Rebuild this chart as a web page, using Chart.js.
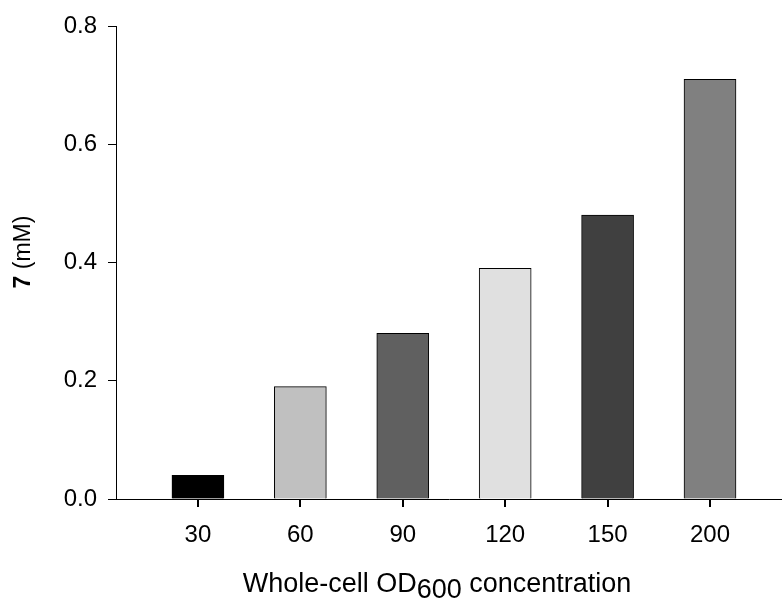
<!DOCTYPE html>
<html>
<head>
<meta charset="utf-8">
<script src="https://cdn.jsdelivr.net/npm/chart.js@4/dist/chart.umd.min.js"></script>
<style>
  html, body { margin: 0; padding: 0; background: #fff; }
  #wrap { width: 782px; height: 600px; }
</style>
</head>
<body>
<div id="wrap"><canvas id="odChart" width="782" height="600"></canvas></div>
<script>
// OD600 levels and product 7 concentration (mM)
const odLevels = ['30', '60', '90', '120', '150', '200'];
const product7 = [0.04, 0.19, 0.28, 0.39, 0.48, 0.71];
const barGreys = ['#000000', '#c0c0c0', '#606060', '#e0e0e0', '#404040', '#808080'];
const yTicks = [0, 0.2, 0.4, 0.6, 0.8];

const FONT = '"Liberation Sans", Arial, Helvetica, sans-serif';

// small marks under each bar centre on the x axis
const xTickMarks = {
    id: 'xTickMarks',
    afterDraw(chart) {
        const ctx = chart.ctx;
        const xs = chart.scales.x;
        const y0 = Math.round(chart.chartArea.bottom);
        ctx.save();
        ctx.strokeStyle = '#000';
        ctx.lineWidth = 2;
        odLevels.forEach((_, i) => {
            const px = Math.round(xs.getPixelForValue(i));
            ctx.beginPath();
            ctx.moveTo(px, y0);
            ctx.lineTo(px, y0 + 8);
            ctx.stroke();
        });
        ctx.restore();
    }
};

// axis titles: bold compound number on y, subscript on x
const axisTitles = {
    id: 'axisTitles',
    afterDraw(chart) {
        const ctx = chart.ctx;
        ctx.save();
        ctx.fillStyle = '#000';

        // y title, rotated
        ctx.translate(24, 252);
        ctx.rotate(-Math.PI / 2);
        ctx.textBaseline = 'middle';
        ctx.font = 'bold 23px ' + FONT;
        const a = '7';
        const wa = ctx.measureText(a).width;
        ctx.font = '23px ' + FONT;
        const b = ' (mM)';
        const wb = ctx.measureText(b).width;
        let x0 = -(wa + wb) / 2;
        ctx.textAlign = 'left';
        ctx.font = 'bold 23px ' + FONT;
        ctx.fillText(a, x0, 0);
        ctx.font = '23px ' + FONT;
        ctx.fillText(b, x0 + wa, 0);
        ctx.restore();

        // x title with OD subscript
        ctx.save();
        ctx.fillStyle = '#000';
        ctx.textBaseline = 'alphabetic';
        ctx.textAlign = 'left';
        const parts = [
            { t: 'Whole-cell OD', size: 27, dy: 0 },
            { t: '600', size: 27, dy: 6 },
            { t: ' concentration', size: 27, dy: 0 }
        ];
        let total = 0;
        parts.forEach(p => {
            ctx.font = p.size + 'px ' + FONT;
            p.w = ctx.measureText(p.t).width;
            total += p.w;
        });
        let x = 437 - total / 2;
        parts.forEach(p => {
            ctx.font = p.size + 'px ' + FONT;
            ctx.fillText(p.t, x, 592 + p.dy);
            x += p.w;
        });
        ctx.restore();
    }
};

new Chart(document.getElementById('odChart'), {
    type: 'bar',
    data: {
        datasets: [{
            data: product7.map((v, i) => ({ x: i, y: v })),
            backgroundColor: barGreys,
            borderColor: '#000',
            borderWidth: 1,
            barThickness: 52
        }]
    },
    options: {
        responsive: false,
        animation: false,
        devicePixelRatio: 1,
        layout: { padding: { top: 26, right: 0, left: 0, bottom: 0 } },
        plugins: { legend: { display: false }, tooltip: { enabled: false } },
        scales: {
            x: {
                type: 'linear',
                offset: false,
                min: -0.8,
                max: 5.703,
                afterBuildTicks: s => { s.ticks = odLevels.map((_, i) => ({ value: i })); },
                afterFit: s => { s.height = 101; },
                grid: { offset: false, drawOnChartArea: false, drawTicks: true, tickLength: 7, color: '#000', lineWidth: 1 },
                border: { display: true, color: '#000', width: 1 },
                ticks: {
                    callback: v => odLevels[v],
                    color: '#000',
                    font: { family: FONT, size: 24 },
                    padding: 15,
                    maxRotation: 0
                }
            },
            y: {
                min: 0,
                max: 0.8,
                afterBuildTicks: s => { s.ticks = yTicks.map(v => ({ value: v })); },
                afterFit: s => { s.width = 116; },
                grid: { drawOnChartArea: false, drawTicks: true, tickLength: 8, color: '#000', lineWidth: 1 },
                border: { display: true, color: '#000', width: 1 },
                ticks: {
                    callback: v => v.toFixed(1),
                    color: '#000',
                    font: { family: FONT, size: 24 },
                    padding: 11
                }
            }
        }
    },
    plugins: [xTickMarks, axisTitles]
});
</script>
</body>
</html>
